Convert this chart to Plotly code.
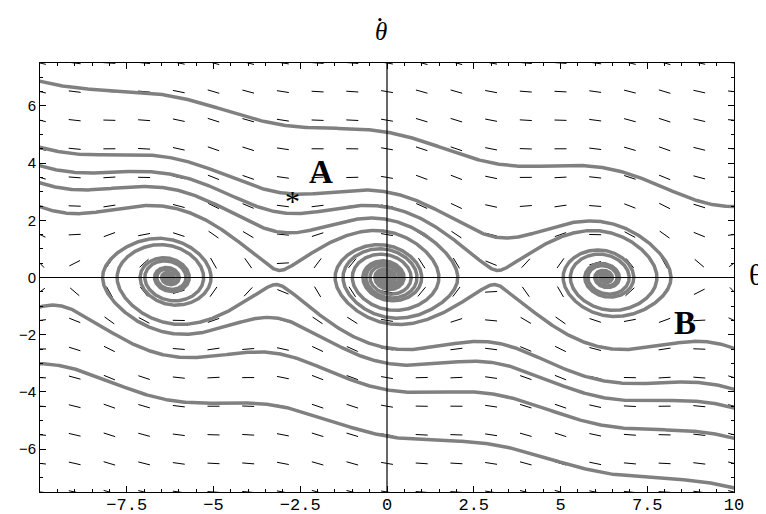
import numpy as np
import plotly.graph_objects as go

# ---- data ----
damping = 0.21
# each trajectory is given by one point it passes through (theta, theta-dot)
thru_theta = [0.0, -2.72, 0.0, -3.14, 3.14, -3.14, 3.14, 0.0, 0.0, 0.0]
thru_omega = [5.08, 2.92, 2.03, 0.25, 0.25, -0.25, -0.25, -3.0, -3.93, -5.55]
field_theta = list(range(-10, 11))
field_omega = [k + 0.5 for k in range(-8, 8)]
x_ticks = [-7.5, -5, -2.5, 0, 2.5, 5, 7.5, 10]
y_ticks = [-6, -4, -2, 0, 2, 4, 6]
labels = [("A", -1.9, 3.7), ("B", 8.6, -1.6)]
star_point = (-2.72, 2.92)

X_RANGE = [-10, 10]
Y_RANGE = [-7.5, 7.5]


def rhs(s):
    th, om = s
    return np.array([om, -np.sin(th) - damping * om])


def integrate(th0, om0, dt, tmax):
    s = np.array([th0, om0], dtype=float)
    pts = [s.copy()]
    t = 0.0
    while t < tmax:
        k1 = rhs(s)
        k2 = rhs(s + 0.5 * dt * k1)
        k3 = rhs(s + 0.5 * dt * k2)
        k4 = rhs(s + dt * k3)
        s = s + dt / 6 * (k1 + 2 * k2 + 2 * k3 + k4)
        t += abs(dt)
        pts.append(s.copy())
        if abs(s[0]) > 10.05 or abs(s[1]) > 7.6:
            break
    return np.array(pts)


def trajectory(th0, om0):
    back = integrate(th0, om0, -0.01, 40.0)[::-1]
    fwd = integrate(th0, om0, 0.01, 80.0)
    p = np.vstack([back, fwd[1:]])
    return p[:, 0], p[:, 1]


fig = go.Figure()

# direction field (constant-length dashes, centred on grid points)
px_per_x = 694 / 20.0
px_per_y = 429 / 15.0
half_len = 6.0
fx, fy = [], []
for th in field_theta:
    for om in field_omega:
        vx, vy = om, -np.sin(th) - damping * om
        px, py = vx * px_per_x, vy * px_per_y
        n = np.hypot(px, py)
        if n == 0:
            continue
        dx = half_len * px / n / px_per_x
        dy = half_len * py / n / px_per_y
        fx += [th - dx, th + dx, None]
        fy += [om - dy, om + dy, None]
fig.add_trace(go.Scatter(x=fx, y=fy, mode="lines",
                         line=dict(color="black", width=1),
                         hoverinfo="skip", showlegend=False))

for th0, om0 in zip(thru_theta, thru_omega):
    xs, ys = trajectory(th0, om0)
    fig.add_trace(go.Scatter(x=xs, y=ys, mode="lines",
                             line=dict(color="rgb(128,128,128)", width=3.5),
                             hoverinfo="skip", showlegend=False))

# axes through the origin
fig.add_shape(type="line", x0=-10, x1=10, y0=0, y1=0, xref="x", yref="y",
              line=dict(color="black", width=1.2))
fig.add_shape(type="line", x0=0, x1=0, y0=-7.5, y1=7.5, xref="x", yref="y",
              line=dict(color="black", width=1.2))

for txt, x, y in labels:
    fig.add_annotation(x=x, y=y, text="<b>" + txt + "</b>", showarrow=False,
                       font=dict(family="Liberation Serif", size=33, color="black"))
fig.add_annotation(x=star_point[0], y=star_point[1], text="*", showarrow=False,
                   yshift=-7,
                   font=dict(family="Liberation Serif", size=30, color="black"))

# axis titles: theta-dot on top, theta at right
fig.add_annotation(xref="x", yref="paper", x=-0.17, y=1.0, yshift=32,
                   yanchor="middle", xanchor="center",
                   text="<i>θ</i>", showarrow=False,
                   font=dict(family="Liberation Serif", size=25, color="black"))
fig.add_shape(type="circle", xref="paper", yref="paper",
              x0=0.4875, x1=0.4921, y0=1.0975, y1=1.1050,
              fillcolor="black", line=dict(width=0))
fig.add_annotation(xref="paper", yref="y", x=1.0317, y=0.12,
                   xanchor="center", yanchor="middle",
                   text="θ", showarrow=False,
                   font=dict(family="Liberation Serif", size=30, color="black"))

axis_common = dict(showgrid=False, zeroline=False, showline=True, linecolor="black",
                   linewidth=1, mirror="ticks", ticks="inside", ticklen=6,
                   tickcolor="black", tickwidth=1, automargin=False)
fig.update_xaxes(range=X_RANGE, tickmode="array", tickvals=x_ticks,
                 ticktext=[("−" + str(abs(v))) if v < 0 else str(v) for v in x_ticks],
                 tickfont=dict(family="Liberation Mono", size=17, color="black"),
                 ticklabelstandoff=-3,
                 minor=dict(dtick=0.5, tick0=0, ticks="inside", ticklen=3, tickcolor="black"),
                 **axis_common)
fig.update_yaxes(range=Y_RANGE, tickmode="array", tickvals=y_ticks,
                 ticktext=[("−" + str(abs(v))) if v < 0 else str(v) for v in y_ticks],
                 tickfont=dict(family="Liberation Sans", size=15, color="black"),
                 minor=dict(dtick=0.5, tick0=0, ticks="inside", ticklen=3, tickcolor="black"),
                 **axis_common)

fig.update_layout(width=766, height=514, plot_bgcolor="white", paper_bgcolor="white",
                  margin=dict(l=32, r=40, t=55, b=30), showlegend=False)

fig.write_html("out.html")
